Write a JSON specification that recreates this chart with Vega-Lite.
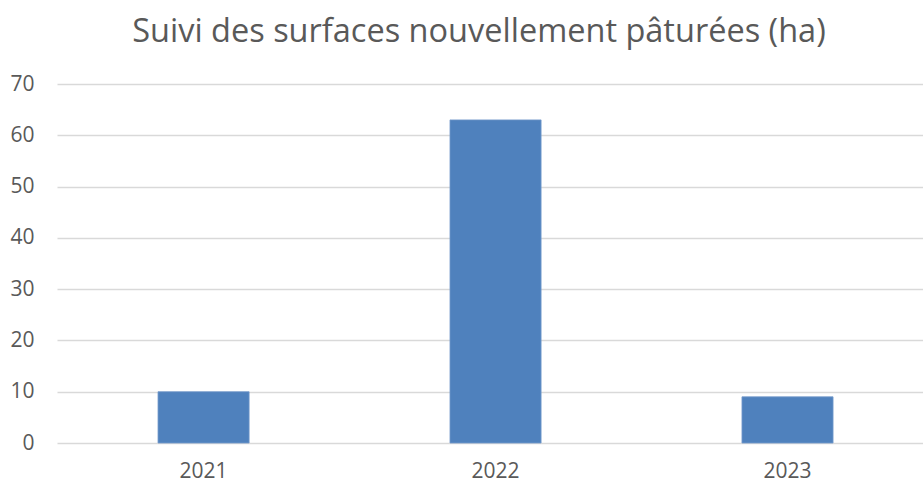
{
  "$schema": "https://vega.github.io/schema/vega-lite/v6.json",
  "autosize": "none",
  "width": 866,
  "height": 359,
  "padding": {"left": 57, "top": 84, "right": 0, "bottom": 40},
  "background": "white",
  "title": {
    "text": "Suivi des surfaces nouvellement pâturées (ha)",
    "font": "Open Sans",
    "fontSize": 32.5,
    "fontWeight": "normal",
    "color": "#595959",
    "anchor": "middle",
    "baseline": "alphabetic",
    "offset": -1,
    "dx": -11
  },
  "data": {
    "values": [
      {"annee": "2021", "surface": 10},
      {"annee": "2022", "surface": 63},
      {"annee": "2023", "surface": 9}
    ]
  },
  "mark": {"type": "bar", "color": "#4f81bd", "stroke": "#7399cb", "strokeWidth": 0.8},
  "encoding": {
    "x": {
      "field": "annee",
      "type": "nominal",
      "title": null,
      "scale": {"paddingInner": 0.688, "paddingOuter": 0.327, "align": 0.529},
      "axis": {
        "labelAngle": 0,
        "domain": false,
        "ticks": false,
        "labelFont": "Open Sans",
        "labelFontSize": 21,
        "labelColor": "#595959",
        "labelPadding": 17
      }
    },
    "y": {
      "field": "surface",
      "type": "quantitative",
      "title": null,
      "scale": {"domain": [0, 70], "nice": false},
      "axis": {
        "values": [0, 10, 20, 30, 40, 50, 60, 70],
        "domain": false,
        "ticks": false,
        "grid": true,
        "gridColor": "#d9d9d9",
        "gridWidth": 1.5,
        "labelFont": "Open Sans",
        "labelFontSize": 21,
        "labelColor": "#595959",
        "labelPadding": 23
      }
    }
  },
  "config": {"view": {"stroke": null}}
}
